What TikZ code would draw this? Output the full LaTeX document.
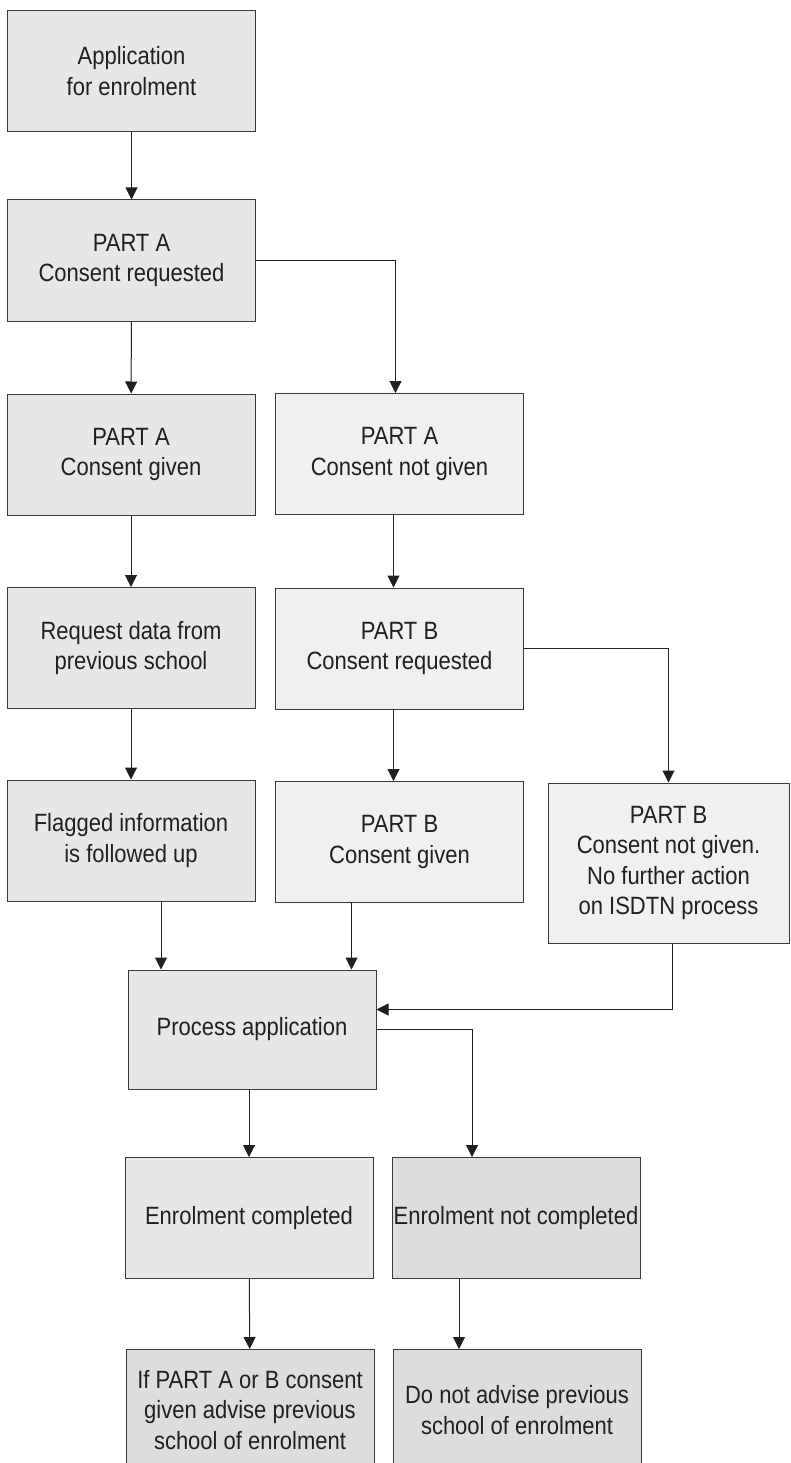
\documentclass[tikz,border=0pt]{standalone}
\usepackage{fontspec}
\setmainfont{Liberation Sans}[FakeStretch=0.88]
\usetikzlibrary{arrows.meta}
\definecolor{ink}{HTML}{231F20}
\definecolor{edge}{HTML}{3A3A3C}
\definecolor{fillmid}{HTML}{E6E7E8}
\definecolor{filllight}{HTML}{F0F0F0}
\definecolor{filldark}{HTML}{DCDDDE}
\tikzset{
  stage/.style={draw=edge,line width=1pt,text=ink,align=center,inner sep=0pt,
    minimum width=248pt,minimum height=121pt,font=\fontsize{25}{30.5}\selectfont},
  arr/.style={draw=ink,line width=1pt,-{Triangle[width=12pt,length=12pt]}},
}
\begin{document}
\begin{tikzpicture}[x=1pt,y=-1pt]
        \useasboundingbox (0,0) rectangle (790,1463);
        % first column
        \node[stage,fill=fillmid] (app) at (131.5,71) {Application\\for enrolment};
        \node[stage,fill=fillmid] (reqA) at (131.5,260.5) {PART A\\Consent requested};
        \node[stage,fill=fillmid] (givenA) at (131,454.5) {PART A\\Consent given};
        \node[stage,fill=fillmid] (request) at (131,648) {Request data from\\previous school};
        \node[stage,fill=fillmid] (flagged) at (131,840.5) {Flagged information\\is followed up};
        % second column
        \node[stage,fill=filllight] (notA) at (399.5,454) {PART A\\Consent not given};
        \node[stage,fill=filllight] (reqB) at (399.5,648.5) {PART B\\Consent requested};
        \node[stage,fill=filllight] (givenB) at (399.5,842) {PART B\\Consent given};
        \node[stage,fill=filllight,minimum width=241pt,minimum height=160pt] (notB) at (668.5,863)
          {PART B\\Consent not given.\\No further action\\on ISDTN process};
        % lower part
        \node[stage,fill=fillmid,minimum height=119pt] (proc) at (252,1029.5) {Process application};
        \node[stage,fill=fillmid] (done) at (249,1218) {Enrolment completed};
        \node[stage,fill=filldark] (notdone) at (516,1218) {Enrolment not completed};
        \node[stage,fill=filldark] (advise) at (250,1410)
          {If PART A or B consent\\given advise previous\\school of enrolment};
        \node[stage,fill=filldark] (noadvise) at (517,1410)
          {Do not advise previous\\school of enrolment};
        % connectors
        \draw[arr] (app) -- (reqA);
        \draw[arr] (reqA) -- (givenA);
        \draw[arr] (reqA.east) -| ([xshift=-4pt]notA.north);
        \draw[arr] (givenA) -- (request);
        \draw[arr] ([xshift=-6pt]notA.south) -- ([xshift=-6pt]reqB.north);
        \draw[arr] (request) -- (flagged);
        \draw[arr] ([xshift=-6pt]reqB.south) -- ([xshift=-6pt]givenB.north);
        \draw[arr] (reqB.east) -| (notB.north);
        \draw[arr] ([xshift=30pt]flagged.south) -- ([xshift=30pt]flagged.south |- proc.north);
        \draw[arr] ([xshift=-48pt]givenB.south) -- ([xshift=-48pt]givenB.south |- proc.north);
        \draw[arr] ([xshift=4pt]notB.south) |- ([yshift=20pt]proc.east);
        \draw[arr] (proc.south -| done.north) -- (done.north);
        \draw[arr] (proc.east) -| ([xshift=-44pt]notdone.north);
        \draw[arr] (done) -- (advise);
        \draw[arr] ([xshift=-57pt]notdone.south) -- ([xshift=-57pt]notdone.south |- noadvise.north);
      \end{tikzpicture}
\end{document}
